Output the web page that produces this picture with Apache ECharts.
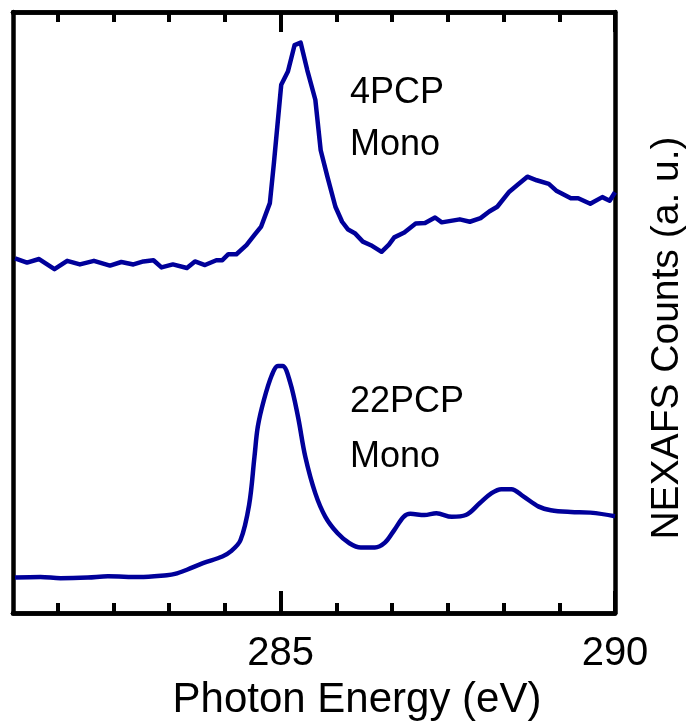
<!DOCTYPE html>
<html>
<head>
<meta charset="utf-8">
<script src="https://cdn.jsdelivr.net/npm/echarts@6/dist/echarts.min.js"></script>
<style>html,body{margin:0;padding:0;background:#fff}#c{width:690px;height:725px}</style>
</head>
<body>
<div id="c"></div>
<script>
// Photon energy (eV) and NEXAFS counts (a. u., offset traces)
const energy4PCP = [281.03,281.21,281.39,281.62,281.81,282.00,282.21,282.45,282.62,282.80,282.95,283.10,283.22,283.39,283.60,283.72,283.87,284.04,284.13,284.22,284.34,284.49,284.61,284.71,284.84,284.90,285.01,285.11,285.21,285.30,285.40,285.52,285.60,285.70,285.82,285.92,286.01,286.11,286.23,286.35,286.51,286.62,286.70,286.85,287.02,287.16,287.31,287.41,287.68,287.83,287.99,288.12,288.24,288.42,288.54,288.69,288.83,289.01,289.13,289.34,289.45,289.63,289.81,289.92,290.00];
const counts4PCP = [5.90,5.83,5.89,5.72,5.86,5.80,5.86,5.78,5.84,5.80,5.85,5.87,5.75,5.80,5.74,5.85,5.79,5.87,5.87,5.97,5.97,6.12,6.29,6.43,6.82,7.48,8.79,9.01,9.45,9.49,9.03,8.54,7.70,7.26,6.76,6.51,6.38,6.32,6.18,6.12,6.01,6.13,6.25,6.33,6.48,6.49,6.58,6.50,6.55,6.51,6.57,6.68,6.76,7.01,7.12,7.26,7.20,7.14,7.02,6.90,6.90,6.81,6.92,6.86,7.00];
const energy22PCP = [281.03,281.41,281.71,282.12,282.42,282.89,283.30,283.42,283.60,283.84,284.13,284.25,284.40,284.53,284.61,284.66,284.75,284.87,284.96,285.03,285.14,285.26,285.37,285.52,285.67,285.85,286.03,286.20,286.41,286.56,286.70,286.84,286.94,287.15,287.33,287.56,287.77,287.98,288.15,288.30,288.45,288.63,288.86,289.04,289.34,289.63,290.00];
const counts22PCP = [0.59,0.60,0.58,0.59,0.61,0.60,0.63,0.65,0.72,0.83,0.94,1.02,1.21,1.80,2.60,3.10,3.54,3.96,4.11,4.11,3.85,3.27,2.60,1.99,1.60,1.33,1.16,1.09,1.09,1.17,1.38,1.60,1.65,1.63,1.66,1.60,1.63,1.83,1.99,2.06,2.06,1.94,1.77,1.71,1.68,1.67,1.61];
const minorTicks = [281.6667,282.5,283.3333,284.1667,285.8333,286.6667,287.5,288.3333,289.1667];
const majorTicks = [285, 290];
const tickLabels = ['285', '290'];
const traceLabels = [['4PCP', 'Mono'], ['22PCP', 'Mono']];
const xTitle = 'Photon Energy (eV)';
const yTitle = 'NEXAFS Counts (a. u.)';

const FONT = '"Liberation Sans", Arial, sans-serif';
const LINE = '#00009A';
const chart = echarts.init(document.getElementById('c'), null, {renderer: 'canvas'});

function xAx(pos, ticks, len, showLabel) {
  return {
    type: 'value', position: pos, min: 281, max: 290,
    axisLine: {show: true, onZero: false, lineStyle: {color: '#000', width: 4.5}},
    axisTick: {show: true, inside: true, length: len, customValues: ticks, lineStyle: {color: '#000', width: 4}},
    axisLabel: showLabel ? {
      show: true, customValues: majorTicks, margin: 21,
      formatter: v => tickLabels[majorTicks.indexOf(Math.round(v))] || '',
      fontFamily: FONT, fontSize: 40, color: '#000'
    } : {show: false},
    splitLine: {show: false}
  };
}

const option = {
  animation: false,
  backgroundColor: '#fff',
  grid: {left: 13, right: 75, top: 12, bottom: 112, containLabel: false},
  xAxis: [
    xAx('bottom', minorTicks, 10, false),
    xAx('bottom', majorTicks, 22, true),
    xAx('top', minorTicks, 10, false),
    xAx('top', majorTicks, 20, false)
  ],
  yAxis: [
    {type: 'value', position: 'left', min: 0, max: 10, axisLine: {show: true, onZero: false, lineStyle: {color: '#000', width: 4.5}}, axisTick: {show: false}, axisLabel: {show: false}, splitLine: {show: false}},
    {type: 'value', position: 'right', min: 0, max: 10, axisLine: {show: true, onZero: false, lineStyle: {color: '#000', width: 4.5}}, axisTick: {show: false}, axisLabel: {show: false}, splitLine: {show: false}}
  ],
  series: [
    {type: 'line', xAxisIndex: 1, yAxisIndex: 0, data: energy4PCP.map((e, i) => [e, counts4PCP[i]]), showSymbol: false, lineStyle: {color: LINE, width: 4.5, join: 'round'}, z: 1},
    {type: 'line', xAxisIndex: 1, yAxisIndex: 0, data: energy22PCP.map((e, i) => [e, counts22PCP[i]]), showSymbol: false, smooth: 0.35, lineStyle: {color: LINE, width: 4.5, join: 'round'}, z: 1}
  ],
  graphic: [
    {type: 'text', left: 350, top: 67, style: {text: traceLabels[0].join('\n'), font: '36px ' + FONT, lineHeight: 52, fill: '#000'}},
    {type: 'text', left: 350, top: 375, style: {text: traceLabels[1].join('\n'), font: '36px ' + FONT, lineHeight: 55, fill: '#000'}},
    {type: 'text', x: 667, y: 338, rotation: Math.PI / 2, style: {text: yTitle, font: '39px ' + FONT, fill: '#000', align: 'center', verticalAlign: 'middle'}},
    {type: 'text', x: 357, y: 700, style: {text: xTitle, font: '42px ' + FONT, fill: '#000', align: 'center', verticalAlign: 'middle'}}
  ]
};
chart.setOption(option);
</script>
</body>
</html>
